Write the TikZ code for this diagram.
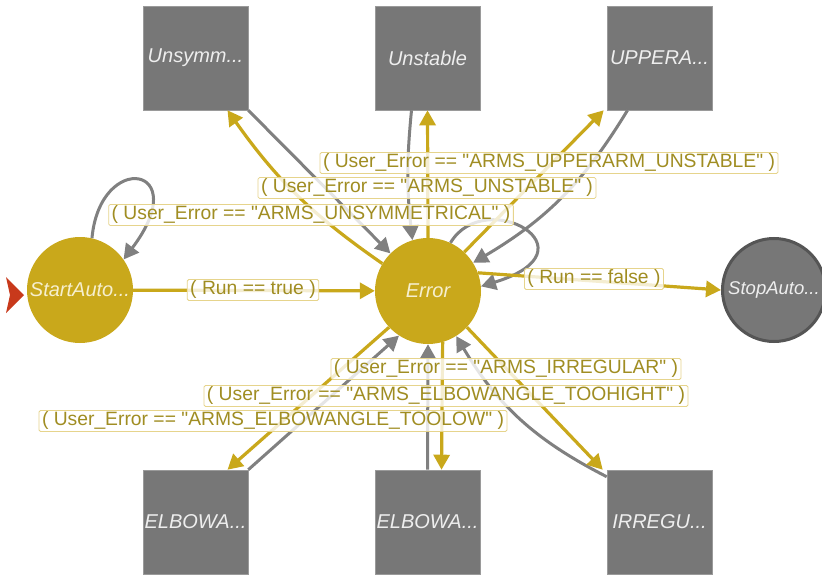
\documentclass[tikz,border=0pt]{standalone}
\usepackage{fontspec}
\setmainfont{Liberation Sans}[Ligatures=TeXOff]
\usetikzlibrary{arrows.meta}
\definecolor{gold}{HTML}{C9A81B}
\definecolor{edgegray}{HTML}{808080}
\definecolor{boxgray}{HTML}{777777}
\definecolor{boxedge}{HTML}{9A9A9A}
\definecolor{stopedge}{HTML}{555555}
\definecolor{boxtext}{HTML}{EEEEEE}
\definecolor{circtext}{HTML}{F6EFCF}
\definecolor{lblborder}{HTML}{E6D48C}
\definecolor{lbltext}{HTML}{A08D22}
\definecolor{initred}{HTML}{C8391B}
\begin{document}
\begin{tikzpicture}[x=1pt,y=-1pt,
  circstate/.style={circle, fill=gold, minimum size=106pt, inner sep=0pt, text=circtext, font=\fontsize{20}{20}\selectfont\itshape},
  stopstate/.style={circle, fill=boxgray, draw=stopedge, line width=3pt, minimum size=103pt, inner sep=0pt, text=boxtext, font=\fontsize{18.5}{18.5}\selectfont\itshape},
  statebox/.style={rectangle, fill=boxgray, draw=boxedge, line width=0.6pt, minimum width=105pt, minimum height=104pt, inner sep=0pt, text=boxtext, font=\fontsize{20}{20}\selectfont\itshape},
  goldedge/.style={draw=gold, line width=3.2pt, -{Triangle[length=15pt,width=16pt]}},
  grayedge/.style={draw=edgegray, line width=3pt, -{Triangle[length=15pt,width=16pt]}},
  lbl/.style={draw=lblborder, line width=0.8pt, fill=white, fill opacity=0.8, text opacity=1, text=lbltext, inner xsep=3pt, inner ysep=1.5pt, rounded corners=1.5pt, font=\fontsize{19.3}{19.3}\selectfont}
]
\useasboundingbox[fill=white] (0,0) rectangle (822,575);

% states
\node[circstate] (start) at (80,290) {StartAuto...};
\node[circstate] (err) at (428,291) {Error};
\node[stopstate] (stop) at (774,290) {StopAuto...};
\node[statebox] (unsym) at (195.5,58) {Unsymm...};
\node[statebox] (unstab) at (427.5,58) {Unstable};
\node[statebox] (upper) at (659.5,58) {UPPERA...};
\node[statebox] (elbl) at (195.5,522) {ELBOWA...};
\node[statebox] (elbm) at (427.5,522) {ELBOWA...};
\node[statebox] (irreg) at (659.5,522) {IRREGU...};

% initial marker
\fill[initred] (6,277) -- (24,295) -- (6,313) -- (10,295) -- cycle;

% gray (return) edges
\draw[grayedge] (start.77) .. controls (100,150) and (195,165) .. (start.35);
\draw[grayedge] (unsym.south east) -- (err.135);
\draw[grayedge] ([xshift=-16pt]unstab.south) to[bend right=6] (err.107);
\draw[grayedge] ([xshift=-32pt]upper.south) to[bend left=14] (err.32);
\draw[grayedge] (err.65) .. controls (485,185) and (600,250) .. (err.5);
\draw[grayedge] (elbl.north east) -- (err.237);
\draw[grayedge] (elbm.north) -- (err.270);
\draw[grayedge] ([yshift=-7pt]irreg.north west) to[bend left=16] (err.-58);

% gold (labelled) edges
\draw[goldedge] (start) -- (err);
\draw[goldedge] (err.149) to[bend left=10] ([xshift=32pt]unsym.south);
\draw[goldedge] (err.90) -- (unstab.south);
\draw[goldedge] (err.47) -- ([xshift=-3pt]upper.south west);
\draw[goldedge] (err.20) -- (stop.west);
\draw[goldedge] (err.223) -- ([xshift=32pt]elbl.north);
\draw[goldedge] (err.286) -- ([xshift=14pt]elbm.north);
\draw[goldedge] (err.-43) -- ([xshift=-4pt]irreg.north west);

% labels
\node[lbl] (lrt) at (253,290) {( Run == true )};
\node[lbl] (lrf) at (594,279) {( Run == false )};
\node[lbl] (lup) at (549,163) {( User\_Error == "ARMS\_UPPERARM\_UNSTABLE" )};
\node[lbl] (lun) at (427,188) {( User\_Error == "ARMS\_UNSTABLE" )};
\node[lbl] (lsy) at (311,215) {( User\_Error == "ARMS\_UNSYMMETRICAL" )};
\node[lbl] (lir) at (506,369) {( User\_Error == "ARMS\_IRREGULAR" )};
\node[lbl] (lhi) at (446,396) {( User\_Error == "ARMS\_ELBOWANGLE\_TOOHIGHT" )};
\node[lbl] (llo) at (273,421) {( User\_Error == "ARMS\_ELBOWANGLE\_TOOLOW" )};
\end{tikzpicture}
\end{document}
